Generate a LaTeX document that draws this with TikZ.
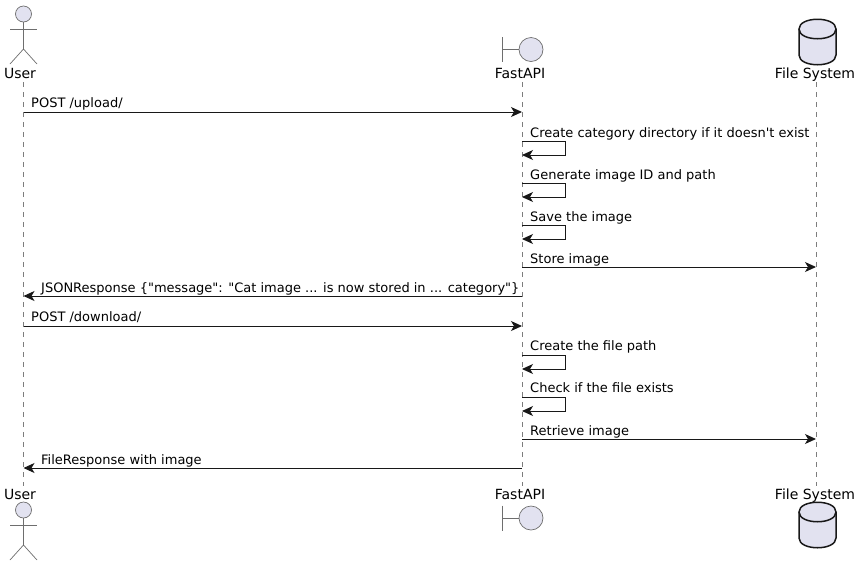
\documentclass[tikz,border=0pt]{standalone}
\usepackage{fontspec}
\setmainfont{DejaVu Sans}[Ligatures=TeXOff]
\usetikzlibrary{arrows.meta}
\definecolor{partfill}{RGB}{226,226,240}
\definecolor{partline}{RGB}{24,24,24}
\definecolor{thingray}{RGB}{110,110,110}
\definecolor{lifegray}{RGB}{125,125,125}
\tikzset{
    msgtext/.style={anchor=base west, inner sep=0pt, font=\fontsize{13}{15}\selectfont, text=black},
    parttext/.style={anchor=base, inner sep=0pt, font=\fontsize{14}{17}\selectfont, text=black},
    msg/.style={draw=partline, line width=1pt, -{Stealth[length=11pt,width=10pt,inset=3pt]}},
    lifeline/.style={draw=lifegray, line width=0.7pt, dash pattern=on 5pt off 5pt},
    thinpart/.style={draw=thingray, line width=0.7pt},
    thickpart/.style={draw=partline, line width=1.5pt, fill=partfill}
}

\begin{document}
\begin{tikzpicture}[x=1pt,y=-1pt]
    \useasboundingbox (0,0) rectangle (860,566);

    % Lifeline ends
    \coordinate (userTop) at (23.5,82);
    \coordinate (userEnd) at (23.5,486);
    \coordinate (apiTop) at (522,82);
    \coordinate (apiEnd) at (522,486);
    \coordinate (fsTop) at (816,82);
    \coordinate (fsEnd) at (816,486);
    \draw[lifeline] (userTop) -- (userEnd);
    \draw[lifeline] (apiTop) -- (apiEnd);
    \draw[lifeline] (fsTop) -- (fsEnd);

    % Participant labels, top and bottom
    \foreach \pos/\ypos in {top/78,bot/499}{
        \node[parttext] (user\pos) at (20,\ypos) {User};
        \node[parttext] (api\pos) at (520,\ypos) {FastAPI};
        \node[parttext] (fs\pos) at (815,\ypos) {File System};
    }

    % Actor
    \foreach \dy in {0,496}{
        \begin{scope}[yshift=-\dy pt]
            \draw[thinpart, fill=partfill] (23.5,14) circle (8);
            \draw[thinpart] (23.5,22) -- (23.5,49) (10,29.5) -- (37,29.5);
            \draw[thinpart] (10,64) -- (23.5,49) -- (37,64);
        \end{scope}
    }

    % Boundary
    \foreach \dy in {0,468.5}{
        \begin{scope}[yshift=-\dy pt]
            \draw[thinpart] (502.5,37) -- (502.5,62) (502.5,49.5) -- (519,49.5);
            \draw[thinpart, fill=partfill] (531,49.5) circle (12);
        \end{scope}
    }

    % Database
    \foreach \dy in {0,483}{
        \begin{scope}[yshift=-\dy pt]
            \draw[thickpart] (799,29) .. controls (799,16) and (836,16) .. (836,29)
                -- (836,55) .. controls (836,68) and (799,68) .. (799,55) -- cycle;
            \draw[thickpart, fill=none] (799,29) .. controls (799,42) and (836,42) .. (836,29);
        \end{scope}
    }

    % Points on the lifelines
    \foreach \n/\ypos in {1/112,2/155,3/197,4/239,5/267,6/296,7/326,8/369,9/411,10/439,11/468}{
        \coordinate (u\n) at (23.5,\ypos);
        \coordinate (a\n) at (522,\ypos);
        \coordinate (f\n) at (816,\ypos);
        \coordinate (c\n) at (565,\ypos);
    }
    \foreach \n/\ypos in {2/141,3/183,4/225,8/355,9/397}{
        \coordinate (s\n) at (522,\ypos);
    }

    % Upload
    \node[msgtext] (m1) at (31,107.5) {POST /upload/};
    \draw[msg] (u1) -- (a1);
    \node[msgtext] (m2) at (530,137) {Create category directory if it doesn't exist};
    \draw[msg] (s2) -| (c2) -- (a2);
    \node[msgtext] (m3) at (530,179) {Generate image ID and path};
    \draw[msg] (s3) -| (c3) -- (a3);
    \node[msgtext] (m4) at (530,221) {Save the image};
    \draw[msg] (s4) -| (c4) -- (a4);
    \node[msgtext] (m5) at (530,263) {Store image};
    \draw[msg] (a5) -- (f5);
    \node[msgtext] (m6) at (41,292.5) {JSONResponse \{"message": "Cat image ... is now stored in ... category"\}};
    \draw[msg] (a6) -- (u6);

    % Download
    \node[msgtext] (m7) at (31,321) {POST /download/};
    \draw[msg] (u7) -- (a7);
    \node[msgtext] (m8) at (530,350) {Create the file path};
    \draw[msg] (s8) -| (c8) -- (a8);
    \node[msgtext] (m9) at (530,392) {Check if the file exists};
    \draw[msg] (s9) -| (c9) -- (a9);
    \node[msgtext] (m10) at (530,435) {Retrieve image};
    \draw[msg] (a10) -- (f10);
    \node[msgtext] (m11) at (41,464) {FileResponse with image};
    \draw[msg] (a11) -- (u11);
\end{tikzpicture}
\end{document}
